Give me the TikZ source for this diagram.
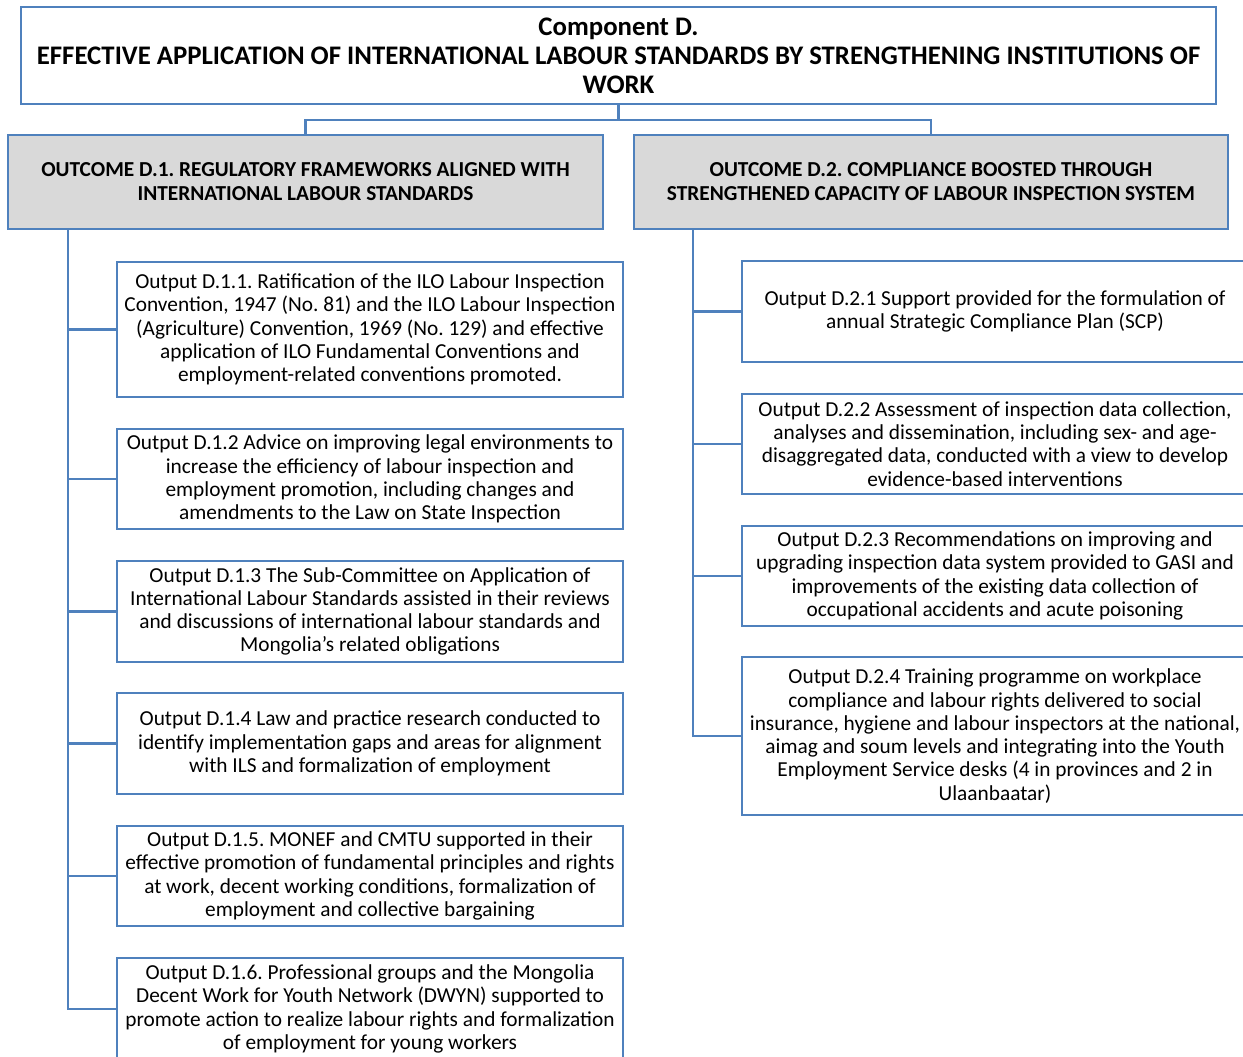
\documentclass[tikz,border=0pt]{standalone}
\usepackage{fontspec}
\setmainfont{Carlito}
\frenchspacing
\definecolor{frameblue}{HTML}{4F81BD}
\definecolor{outcomegray}{HTML}{D9D9D9}
\begin{document}
\begin{tikzpicture}[x=0.75pt,y=-0.75pt,
  box/.style={draw=frameblue,line width=1.8pt,fill=white,align=center,inner sep=0pt,
    font=\fontsize{16}{17.45}\selectfont},
  outbox/.style={box,minimum width=379.5pt},
  outcomebox/.style={box,fill=outcomegray,minimum height=70.5pt,
    font=\fontsize{16}{18}\selectfont\bfseries},
  titlebox/.style={box,font=\fontsize{20.1}{21.75}\selectfont\bfseries},
  link/.style={draw=frameblue,line width=1.8pt}]
\clip (0,0) rectangle (1243,1057);
\fill[white] (0,0) rectangle (1243,1057);

% Component heading
\node[titlebox,minimum width=896.25pt,minimum height=72.75pt] (title) at (618.5,55.5)
  {Component D.\\EFFECTIVE APPLICATION OF INTERNATIONAL LABOUR STANDARDS BY STRENGTHENING INSTITUTIONS OF\\WORK};

% Outcomes
\node[outcomebox,minimum width=446.25pt] (oc1) at (305.5,182)
  {OUTCOME D.1. REGULATORY FRAMEWORKS ALIGNED WITH\\INTERNATIONAL LABOUR STANDARDS};
\node[outcomebox,minimum width=445.5pt] (oc2) at (931,182)
  {OUTCOME D.2. COMPLIANCE BOOSTED THROUGH\\STRENGTHENED CAPACITY OF LABOUR INSPECTION SYSTEM};

% Outputs under D.1
\node[outbox,minimum height=101.25pt] (d11) at (370,329.5)
  {Output D.1.1. Ratification of the ILO Labour Inspection\\Convention, 1947 (No. 81) and the ILO Labour Inspection\\(Agriculture) Convention, 1969 (No. 129) and effective\\application of ILO Fundamental Conventions and\\employment-related conventions promoted.};
\node[outbox,minimum height=75pt] (d12) at (370,479)
  {Output D.1.2 Advice on improving legal environments to\\increase the efficiency of labour inspection and\\employment promotion, including changes and\\amendments to the Law on State Inspection};
\node[outbox,minimum height=75.75pt] (d13) at (370,611.5)
  {Output D.1.3 The Sub-Committee on Application of\\International Labour Standards assisted in their reviews\\and discussions of international labour standards and\\Mongolia’s related obligations};
\node[outbox,minimum height=75.75pt] (d14) at (370,743.5)
  {Output D.1.4 Law and practice research conducted to\\identify implementation gaps and areas for alignment\\with ILS and formalization of employment};
\node[outbox,minimum height=75pt] (d15) at (370,876)
  {Output D.1.5. MONEF and CMTU supported in their\\effective promotion of fundamental principles and rights\\at work, decent working conditions, formalization of\\employment and collective bargaining};
\node[outbox,minimum height=76.5pt] (d16) at (370,1009)
  {Output D.1.6. Professional groups and the Mongolia\\Decent Work for Youth Network (DWYN) supported to\\promote action to realize labour rights and formalization\\of employment for young workers};

% Outputs under D.2
\node[outbox,minimum height=75.75pt] (d21) at (995,311.5)
  {Output D.2.1 Support provided for the formulation of\\annual Strategic Compliance Plan (SCP)};
\node[outbox,minimum height=75pt] (d22) at (995,444)
  {Output D.2.2 Assessment of inspection data collection,\\analyses and dissemination, including sex- and age-\\disaggregated data, conducted with a view to develop\\evidence-based interventions};
\node[outbox,minimum height=75pt] (d23) at (995,576)
  {Output D.2.3 Recommendations on improving and\\upgrading inspection data system provided to GASI and\\improvements of the existing data collection of\\occupational accidents and acute poisoning};
\node[outbox,minimum height=118.5pt] (d24) at (995,736)
  {Output D.2.4 Training programme on workplace\\compliance and labour rights delivered to social\\insurance, hygiene and labour inspectors at the national,\\aimag and soum levels and integrating into the Youth\\Employment Service desks (4 in provinces and 2 in\\Ulaanbaatar)};

% Connectors
\coordinate (bus) at (0,120);
\coordinate (trunkL) at (68,0);
\coordinate (trunkR) at (693,0);
\draw[link] (title.south) -- (title.south |- bus);
\draw[link] (oc1.north) -- (oc1.north |- bus) -- (oc2.north |- bus) -- (oc2.north);
\foreach \n in {d11,d12,d13,d14,d15,d16}
  \draw[link] (oc1.south -| trunkL) |- (\n.west);
\foreach \n in {d21,d22,d23,d24}
  \draw[link] (oc2.south -| trunkR) |- (\n.west);
\end{tikzpicture}
\end{document}
